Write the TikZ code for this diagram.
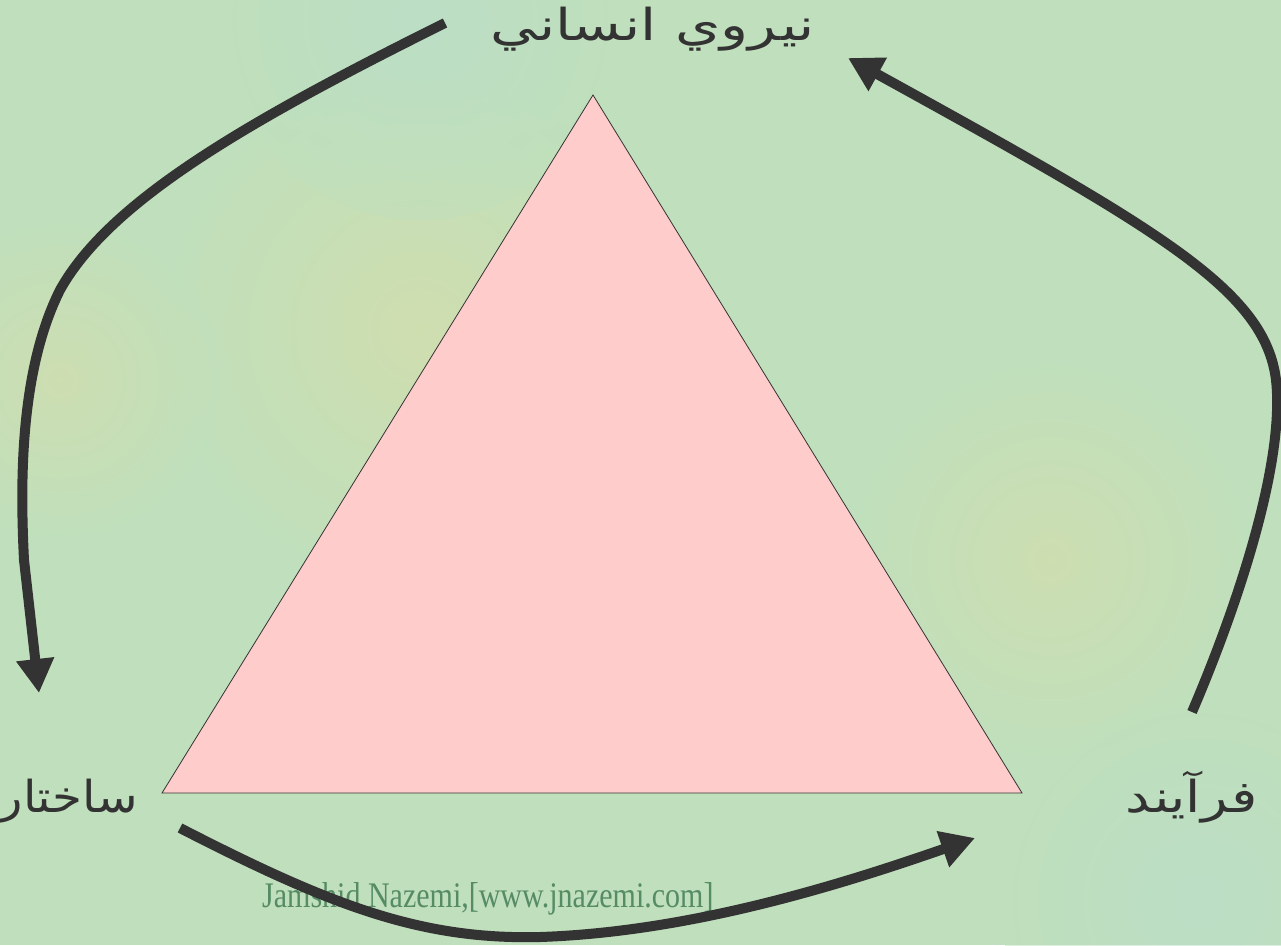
\documentclass[tikz,border=0pt]{standalone}
\usepackage{fontspec}
\usepackage{graphicx}
\usetikzlibrary{arrows.meta}
\TeXXeTstate=1
\newfontfamily\arabicfont[Script=Arabic]{DejaVu Sans}
\setmainfont{Liberation Serif}
\definecolor{bgbase}{RGB}{192,223,188}
\definecolor{bgyellow}{RGB}{214,222,170}
\definecolor{bgblue}{RGB}{184,222,206}
\definecolor{trifill}{RGB}{255,204,204}
\definecolor{arrowcol}{RGB}{51,51,51}
\definecolor{markcol}{RGB}{86,140,100}
\tikzset{
  label/.style={font=\arabicfont\fontsize{44}{50}\selectfont, text=arrowcol, inner sep=0pt},
  bigarrow/.style={draw=arrowcol, line width=10pt, -{Triangle[length=34pt,width=36pt]}},
}
\begin{document}
\begin{tikzpicture}[x=1pt,y=-1pt]
\useasboundingbox (0,0) rectangle (1281,945);
\clip (0,0) rectangle (1281,945);
\fill[bgbase] (0,0) rectangle (1281,945);
\shade[inner color=bgyellow, outer color=bgbase, opacity=0.7] (420,330) circle (260pt);
\shade[inner color=bgyellow, outer color=bgbase, opacity=0.6] (60,380) circle (160pt);
\shade[inner color=bgyellow, outer color=bgbase, opacity=0.6] (1050,560) circle (200pt);
\shade[inner color=bgblue, outer color=bgbase, opacity=0.5] (420,20) circle (200pt);
\shade[inner color=bgblue, outer color=bgbase, opacity=0.5] (1200,900) circle (200pt);
% triangle
\node[coordinate] (ta) at (593,95) {};
\node[coordinate] (tb) at (162,793) {};
\node[coordinate] (tc) at (1022,793) {};
\filldraw[fill=trifill, draw=arrowcol, line width=0.8pt] (ta) -- (tb) -- (tc) -- cycle;
% labels
\node[label, anchor=base east] (human) at (815,40) {\scalebox{1.32}[1]{\beginR نيروي انساني\endR}};
\node[label, anchor=base east] (struct) at (138,812) {\scalebox{1.1}[1]{\beginR ساختار\endR}};
\node[label, anchor=base east] (proc) at (1258,812) {\scalebox{1.25}[1]{\beginR فرآيند\endR}};
% watermark
\node[font=\fontsize{30}{34}\selectfont, text=markcol, anchor=base west, inner sep=0pt] (mark) at (262,907) {\scalebox{1}[1.2]{Jamshid Nazemi,[www.jnazemi.com]}};
% arrows
\coordinate (a1s) at (445,23);
\coordinate (a1e) at (39,693);
\coordinate (a2s) at (1192,712);
\coordinate (a2e) at (848,58);
\coordinate (a3s) at (180,828);
\coordinate (a3e) at (975,838);
\draw[bigarrow] (a1s) .. controls (250,120) and (110,200) .. (60,290)
  .. controls (20,370) and (20,480) .. (24,560) -- (a1e);
\draw[bigarrow] (a2s) .. controls (1240,600) and (1285,460) .. (1276,380)
  .. controls (1265,290) and (1160,230) .. (a2e);
\draw[bigarrow] (a3s) .. controls (330,905) and (420,940) .. (540,937)
  .. controls (690,932) and (840,885) .. (a3e);
\end{tikzpicture}
\end{document}
